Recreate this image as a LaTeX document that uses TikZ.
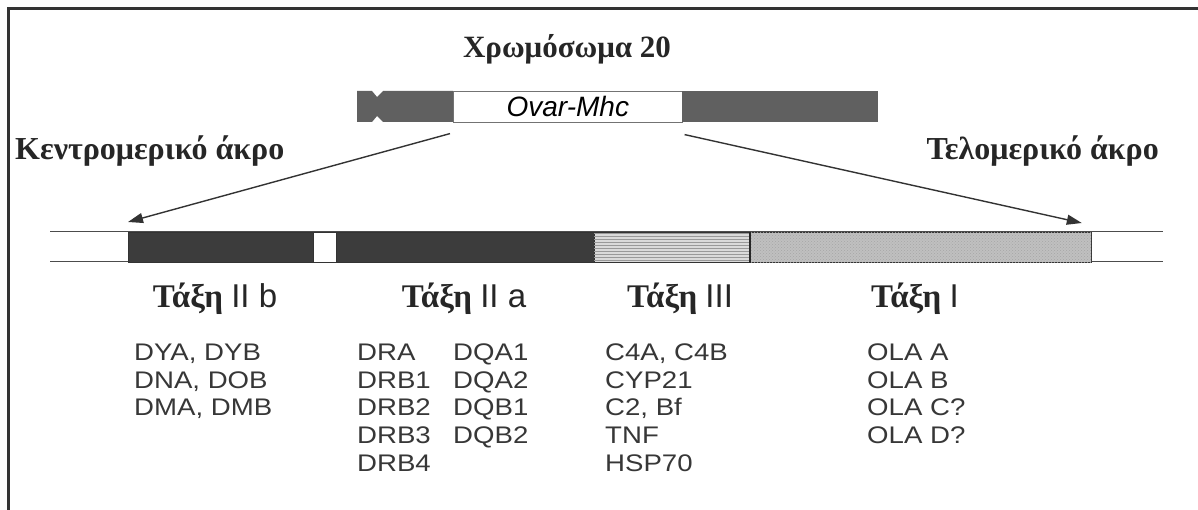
\documentclass[tikz,border=0pt]{standalone}
\usepackage{fontspec}
\setmainfont{Liberation Serif}
\setsansfont{Liberation Sans}
\newfontfamily\genefont{Liberation Sans}[FakeStretch=1.15]
\usepackage{tikz}
\usetikzlibrary{patterns, calc, arrows.meta, positioning}
\definecolor{bardark}{RGB}{60,60,60}
\definecolor{chrdark}{RGB}{96,96,96}
\definecolor{inkgray}{RGB}{55,55,55}

\begin{document}
\begin{tikzpicture}[x=1pt,y=-1pt,
  gene/.style={anchor=base west, inner sep=0, text=inkgray, font=\genefont\fontsize{24}{27}\selectfont},
  head/.style={anchor=base, inner sep=0, text=black!85, font=\fontsize{33}{36}\selectfont},
  side/.style={inner sep=0, text=black!85, font=\bfseries\fontsize{32}{36}\selectfont},
  seg/.style={draw=black!80, line width=0.8pt, minimum height=30pt, inner sep=0, anchor=north west},
  arr/.style={-{Triangle[length=15pt,width=10pt]}, line width=1.4pt, black!80}]
\useasboundingbox (0,0) rectangle (1198,510);

% frame (only top and left edges show)
\draw[line width=3pt, black!80] (8,510) -- (8,9) -- (1198,9);

% chromosome 20
\node[side, anchor=base, font=\bfseries\fontsize{31}{36}\selectfont] (title) at (567,58) {Χρωμόσωμα 20};
\fill[chrdark] (357,91) -- (372,91) -- (377,97) -- (383,91) -- (453,91) -- (453,122)
  -- (383,122) -- (377,116) -- (372,122) -- (357,122) -- cycle;
\node[draw=black!55, line width=0.6pt, fill=white, minimum width=229pt, minimum height=31pt,
  inner sep=0, anchor=north west, font=\sffamily\itshape\fontsize{28}{30}\selectfont] (mhc) at (453,91) {Ovar-Mhc};
\node[fill=chrdark, minimum width=196pt, minimum height=31pt, inner sep=0, anchor=north west] (chrR) at (682,91) {};

% ends
\node[side, anchor=base west] (kentro) at (15,160) {Κεντρομερικό άκρο};
\node[side, anchor=base east] (telo) at (1159,160) {Τελομερικό άκρο};

% the Mhc region, enlarged
\draw[black!70, line width=1pt] (50,232) -- (1163,232);
\draw[black!70, line width=1pt] (50,262) -- (1163,262);
\node[seg, fill=bardark, minimum width=185pt] (segIIb) at (128,232) {};
\node[seg, fill=white, minimum width=23pt] (gapA) at (313,232) {};
\node[seg, fill=bardark, minimum width=258pt] (segIIa) at (336,232) {};
\node[seg, fill={rgb,255:red,218;green,218;blue,218}, minimum width=155pt] (segIII) at (594,232) {};
\fill[pattern=horizontal lines, pattern color=black!40] (segIII.north west) rectangle (segIII.south east);
\node[seg, fill={rgb,255:red,192;green,192;blue,192}, minimum width=342pt] (segI) at (749,232) {};
\fill[pattern=crosshatch dots, pattern color=black!35] (segI.north west) rectangle (segI.south east);
\draw[line width=2pt, black!85] (segIII.north east) -- (segIII.south east);

% arrows
\draw[arr] ($(mhc.south west)+(-3,11)$) -- ($(segIIb.north west)+(0,-10)$);
\draw[arr] ($(mhc.south east)+(2,12)$) -- ($(segI.north east)+(-10,-9)$);

% classes
\node[head] (hIIb) at (215,307) {\textbf{Τάξη} {\sffamily II b}};
\node[head] (hIIa) at (464,307) {\textbf{Τάξη} {\sffamily II a}};
\node[head] (hIII) at (680,307) {\textbf{Τάξη} {\sffamily III}};
\node[head] (hI) at (915,307) {\textbf{Τάξη} {\sffamily I}};

% class II b genes
\node[gene] (dya) at (134,360.5) {DYA, DYB};
\node[gene] (dna) at (134,388) {DNA, DOB};
\node[gene] (dma) at (134,415.5) {DMA, DMB};

% class II a genes
\node[gene] (dra) at (357,360.5) {DRA};
\node[gene] (drb1) at (357,388) {DRB1};
\node[gene] (drb2) at (357,415.5) {DRB2};
\node[gene] (drb3) at (357,443.5) {DRB3};
\node[gene] (drb4) at (357,471) {DRB4};
\node[gene] (dqa1) at (453,360.5) {DQA1};
\node[gene] (dqa2) at (453,388) {DQA2};
\node[gene] (dqb1) at (453,415.5) {DQB1};
\node[gene] (dqb2) at (453,443.5) {DQB2};

% class III genes
\node[gene] (c4) at (605,360.5) {C4A, C4B};
\node[gene] (cyp) at (605,388) {CYP21};
\node[gene] (c2) at (605,415.5) {C2, Bf};
\node[gene] (tnf) at (605,443.5) {TNF};
\node[gene] (hsp) at (605,471) {HSP70};

% class I genes
\node[gene] (olaa) at (867,360.5) {OLA A};
\node[gene] (olab) at (867,388) {OLA B};
\node[gene] (olac) at (867,415.5) {OLA C?};
\node[gene] (olad) at (867,443.5) {OLA D?};
\end{tikzpicture}
\end{document}
